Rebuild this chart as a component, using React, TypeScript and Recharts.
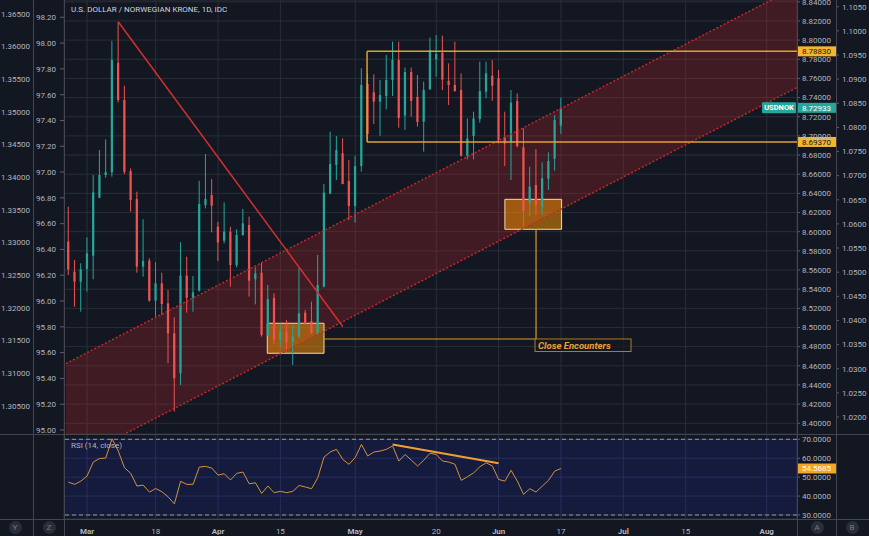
import React from "react";
import {
  ComposedChart,
  Bar,
  Line,
  Area,
  XAxis,
  YAxis,
  CartesianGrid,
  ReferenceLine,
  ReferenceArea,
} from "recharts";

// USD/NOK daily candles, 2019
const dates = [
  "02-26", "02-27", "02-28",
  "03-01", "03-04", "03-05", "03-06", "03-07", "03-08", "03-11", "03-12", "03-13", "03-14", "03-15",
  "03-18", "03-19", "03-20", "03-21", "03-22", "03-25", "03-26", "03-27", "03-28", "03-29",
  "04-01", "04-02", "04-03", "04-04", "04-05", "04-08", "04-09", "04-10", "04-11", "04-12",
  "04-15", "04-16", "04-17", "04-18", "04-19", "04-22", "04-23", "04-24", "04-25", "04-26", "04-29", "04-30",
  "05-01", "05-02", "05-03", "05-06", "05-07", "05-08", "05-09", "05-10", "05-13", "05-14", "05-15", "05-16", "05-17",
  "05-20", "05-21", "05-22", "05-23", "05-24", "05-27", "05-28", "05-29", "05-30", "05-31",
  "06-03", "06-04", "06-05", "06-06", "06-07", "06-10", "06-11", "06-12", "06-13", "06-14", "06-17",
];

const opens = [
  8.5896, 8.5583, 8.5478, 8.5611, 8.575, 8.6355, 8.6592, 8.662, 8.7764, 8.7374,
  8.6633, 8.6341, 8.5635, 8.5698, 8.528, 8.5461, 8.5252, 8.4939, 8.4522, 8.5541,
  8.5311, 8.5385, 8.6279, 8.6383, 8.6052, 8.5906, 8.6, 8.5652, 8.5965, 8.607,
  8.5503, 8.5572, 8.4922, 8.5308, 8.4876, 8.4956, 8.4852, 8.4904, 8.5155, 8.5068,
  8.4939, 8.5426, 8.64, 8.6697, 8.6819, 8.653, 8.6269, 8.6686, 8.7542, 8.7455,
  8.7358, 8.7417, 8.7584, 8.7793, 8.7212, 8.7667, 8.7407, 8.7149, 8.7487, 8.78,
  8.7869, 8.7574, 8.7532, 8.7479, 8.6793, 8.6999, 8.7176, 8.7462, 8.7628, 8.7601,
  8.6985, 8.6929, 8.7364, 8.6881, 8.6303, 8.6487, 8.6261, 8.6553, 8.6762, 8.7107,
];
const highs = [
  8.6261, 8.5705, 8.567, 8.5941, 8.6592, 8.6853, 8.6964, 8.7994, 8.8192, 8.7524,
  8.6661, 8.6418, 8.6129, 8.5722, 8.568, 8.5572, 8.5391, 8.5106, 8.5889, 8.5739,
  8.5538, 8.6532, 8.6811, 8.655, 8.6105, 8.6306, 8.6052, 8.6025, 8.6237, 8.6157,
  8.5628, 8.5677, 8.5444, 8.5357, 8.5044, 8.5078, 8.5026, 8.5618, 8.5183, 8.527,
  8.5757, 8.6498, 8.7044, 8.6999, 8.6975, 8.6749, 8.6791, 8.7706, 8.765, 8.7643,
  8.7584, 8.7845, 8.7984, 8.7984, 8.7713, 8.7713, 8.7636, 8.7567, 8.8026, 8.8054,
  8.8047, 8.7758, 8.7984, 8.7653, 8.7183, 8.7253, 8.7775, 8.7775, 8.7792, 8.7688,
  8.7253, 8.7479, 8.7444, 8.7079, 8.6679, 8.6863, 8.6724, 8.6828, 8.7218, 8.7399,
];
const lows = [
  8.5548, 8.5217, 8.5165, 8.5374, 8.5503, 8.635, 8.6564, 8.6574, 8.735, 8.6602,
  8.6209, 8.5572, 8.5531, 8.527, 8.5113, 8.513, 8.4626, 8.4122, 8.44, 8.5155,
  8.5165, 8.5374, 8.6244, 8.5993, 8.5694, 8.5878, 8.5426, 8.5628, 8.5958, 8.5322,
  8.5242, 8.4904, 8.4911, 8.4824, 8.479, 8.4748, 8.4609, 8.4887, 8.5026, 8.4932,
  8.4922, 8.5419, 8.639, 8.6539, 8.6495, 8.6123, 8.6095, 8.6627, 8.695, 8.7125,
  8.7, 8.7278, 8.7417, 8.7086, 8.7062, 8.7201, 8.7097, 8.6836, 8.748, 8.7619,
  8.748, 8.7323, 8.7462, 8.6783, 8.6755, 8.6755, 8.7138, 8.7392, 8.7368, 8.6922,
  8.6686, 8.654, 8.6881, 8.6053, 8.6164, 8.6174, 8.6174, 8.6435, 8.6637, 8.702,
];
const closes = [
  8.5607, 8.5478, 8.5607, 8.5774, 8.6411, 8.6592, 8.662, 8.7792, 8.7374, 8.6626,
  8.6331, 8.5635, 8.5694, 8.528, 8.5461, 8.5245, 8.4939, 8.447, 8.5541, 8.5311,
  8.5367, 8.6289, 8.6341, 8.6272, 8.5889, 8.6, 8.5652, 8.5965, 8.6087, 8.5489,
  8.5565, 8.4922, 8.5297, 8.4876, 8.4956, 8.4845, 8.4904, 8.5148, 8.5037, 8.4939,
  8.5444, 8.6407, 8.6707, 8.6853, 8.6498, 8.6269, 8.6686, 8.7532, 8.702, 8.7358,
  8.7427, 8.7584, 8.7793, 8.7187, 8.7667, 8.7365, 8.7146, 8.748, 8.7897, 8.7855,
  8.7587, 8.7532, 8.7469, 8.6793, 8.6974, 8.7183, 8.7468, 8.7653, 8.7524, 8.6957,
  8.6922, 8.7347, 8.6894, 8.6216, 8.647, 8.6279, 8.6557, 8.6738, 8.7166, 8.72933,
];
const rsiValues = [
  47.4, 46.2, 47.9, 50.6, 58.0, 59.8, 60.1, 70.3, 63.8, 55.0,
  52.0, 45.3, 45.8, 42.1, 44.0, 42.3, 39.6, 35.9, 47.8, 46.2,
  46.2, 55.3, 55.7, 54.8, 51.1, 51.8, 48.5, 52.0, 52.7, 46.5,
  47.0, 41.4, 45.3, 41.8, 42.5, 41.8, 42.5, 45.6, 44.8, 43.9,
  49.7, 60.6, 63.3, 64.7, 59.4, 56.8, 60.3, 67.3, 61.2, 63.3,
  63.8, 64.7, 66.5, 58.5, 62.0, 59.0, 55.9, 59.0, 62.6, 62.0,
  58.5, 58.0, 56.8, 48.3, 50.2, 52.3, 55.5, 57.6, 55.9, 48.8,
  47.9, 53.6, 47.9, 40.9, 43.9, 42.1, 45.3, 48.3, 53.2, 54.5685,
];

// bar slots of the date labels (future ones continue the weekday count)
const dateTicks = [3, 14, 24, 34, 46, 59, 69, 79, 89, 99, 112];
const dateTickLabels = ["Mar", "18", "Apr", "15", "May", "20", "Jun", "17", "Jul", "15", "Aug"];

const nokTicks = [8.4, 8.42, 8.44, 8.46, 8.48, 8.5, 8.52, 8.54, 8.56, 8.58, 8.6, 8.62, 8.64, 8.66, 8.68, 8.7, 8.72, 8.74, 8.76, 8.78, 8.8, 8.82, 8.84];
const leftInnerTicks = [95.0, 95.2, 95.4, 95.6, 95.8, 96.0, 96.2, 96.4, 96.6, 96.8, 97.0, 97.2, 97.4, 97.6, 97.8, 98.0, 98.2];
const leftOuterTicks = [1.305, 1.31, 1.315, 1.32, 1.325, 1.33, 1.335, 1.34, 1.345, 1.35, 1.355, 1.36, 1.365];
const rightOuterTicks = [1.02, 1.025, 1.03, 1.035, 1.04, 1.045, 1.05, 1.055, 1.06, 1.065, 1.07, 1.075, 1.08, 1.085, 1.09, 1.095, 1.1, 1.105];
const rsiTicks = [30, 40, 50, 60, 70];

// drawings, in (bar slot, price)
const trendLine = [{ x: 8, y: 8.8192 }, { x: 44.0, y: 8.501 }];
const channel = [
  { k: -0.4, band: [8.3571, 8.4622] },
  { k: 116.85, band: [8.7506, 8.8558] },
];
const rangeLevels = [8.7883, 8.6937];
const rangeStart = 47.9;
const boxes = [
  { x1: 31.9, x2: 41.0, y1: 8.4731, y2: 8.5044 },
  { x1: 70.0, x2: 79.1, y1: 8.6025, y2: 8.6338 },
];
const connectorY = 8.488;
const connectorX = 75;
const rsiDivergence = [{ x: 52, y: 67.3 }, { x: 69, y: 57.3 }];

const xDomain = [-0.7, 116.85];
const UP = "#26a69a";
const DOWN = "#ef5350";
const BG = "#131722";
const AXIS_TEXT = "#b2b5be";
const FONT = "Roboto, sans-serif";
const SEP = "#434651";

const candles = dates.map((date, k) => ({
  k,
  date,
  o: opens[k],
  h: highs[k],
  l: lows[k],
  c: closes[k],
  range: [lows[k], highs[k]],
  rsi: rsiValues[k],
}));

const Candle = (props: any) => {
  const { x, y, width, height, payload } = props;
  if (!payload || payload.h == null) return null;
  const top = Math.min(y, y + height);
  const span = Math.abs(height);
  const ppu = payload.h === payload.l ? 0 : span / (payload.h - payload.l);
  const bodyTop = top + (payload.h - Math.max(payload.o, payload.c)) * ppu;
  const bodyH = Math.max(1, Math.abs(payload.o - payload.c) * ppu);
  const color = payload.c >= payload.o ? UP : DOWN;
  const cx = x + width / 2;
  return (
    <g>
      <line x1={cx} x2={cx} y1={top} y2={top + span} stroke={color} strokeWidth={1} />
      <rect x={x} y={bodyTop} width={width} height={bodyH} fill={color} />
    </g>
  );
};

const badge = (text: string, fill: string, color: string, prefix?: string) => (props: any) => {
  const vb = props.viewBox || {};
  const right = (vb.x || 0) + (vb.width || 0);
  const y = vb.y || 0;
  return (
    <g>
      {prefix && (
        <g>
          <rect x={right - 35} y={y - 5.5} width={34} height={11} fill={fill} rx={1} />
          <text x={right - 18} y={y} dy="0.35em" textAnchor="middle" fill={color} fontSize={7.5} fontFamily={FONT} fontWeight={700}>
            {prefix}
          </text>
        </g>
      )}
      <rect x={right + 1} y={y - 5} width={38} height={10} fill={fill} />
      <text x={right + 5} y={y} dy="0.35em" fill={color} fontSize={8} fontFamily={FONT}>
        {text}
      </text>
    </g>
  );
};

const encounterLabel = (props: any) => {
  const vb = props.viewBox || {};
  const x = vb.x || 0;
  const y = (vb.y || 0) + (vb.height || 0);
  return (
    <g>
      <rect x={x - 1} y={y} width={96} height={12.5} fill={BG} fillOpacity={0.6} stroke="#b07a2a" strokeWidth={1} />
      <text x={x + 2} y={y + 6.5} dy="0.35em" fill="#f0a030" fontSize={9.5} fontStyle="italic" fontWeight={700} fontFamily={FONT}>
        Close Encounters
      </text>
    </g>
  );
};

const DateTick = (props: any) => {
  const { x, y, payload } = props;
  const idx = dateTicks.indexOf(payload.value);
  const label = dateTickLabels[idx] ?? "";
  const isMonth = isNaN(Number(label));
  return (
    <text x={x} y={y} dy={7} textAnchor="middle" fill={AXIS_TEXT} fontSize={8} fontFamily={FONT} fontWeight={isMonth ? 700 : 400}>
      {label}
    </text>
  );
};

const tickStyle = { fill: AXIS_TEXT, fontSize: 8, fontFamily: FONT };

const Circle = ({ x, letter }: { x: number; letter: string }) => (
  <div
    style={{
      position: "absolute",
      left: x - 6.5,
      top: 521,
      width: 13,
      height: 13,
      borderRadius: "50%",
      background: "#2a2e39",
      color: "#787b86",
      fontSize: 8,
      fontFamily: FONT,
      lineHeight: "13px",
      textAlign: "center",
    }}
  >
    {letter}
  </div>
);

export default function App() {
  return (
    <div style={{ position: "absolute", left: 0, top: 0, width: 869, height: 536, background: BG, overflow: "hidden" }}>
      <div style={{ position: "absolute", left: 0, top: 0 }}>
        <ComposedChart width={869} height={434} data={candles} margin={{ top: 0, right: 0, bottom: 0, left: 0 }}>
          <XAxis xAxisId="t" dataKey="k" type="number" domain={xDomain} ticks={dateTicks} allowDataOverflow hide />
          <YAxis
            yAxisId="leftInner"
            orientation="left"
            width={31}
            type="number"
            domain={[94.969, 98.334]}
            ticks={leftInnerTicks}
            allowDataOverflow
            interval={0}
            axisLine={false}
            tickLine={{ stroke: "#5d606b" }}
            tickSize={4}
            tickMargin={4}
            tick={tickStyle}
            tickFormatter={(v: number) => v.toFixed(2)}
          />
          <YAxis
            yAxisId="leftOuter"
            orientation="left"
            width={33}
            type="number"
            domain={[1.30067, 1.36714]}
            ticks={leftOuterTicks}
            allowDataOverflow
            interval={0}
            axisLine={false}
            tickLine={false}
            tickSize={0}
            tickMargin={3}
            tick={tickStyle}
            tickFormatter={(v: number) => v.toFixed(5)}
          />
          <YAxis
            yAxisId="nok"
            orientation="right"
            width={39}
            type="number"
            domain={[8.3888, 8.8419]}
            ticks={nokTicks}
            allowDataOverflow
            interval={0}
            axisLine={false}
            tickLine={{ stroke: "#5d606b" }}
            tickSize={3}
            tickMargin={2}
            tick={tickStyle}
            tickFormatter={(v: number) => v.toFixed(5)}
          />
          <YAxis
            yAxisId="rightOuter"
            orientation="right"
            width={33}
            type="number"
            domain={[1.01648, 1.10639]}
            ticks={rightOuterTicks}
            allowDataOverflow
            interval={0}
            axisLine={false}
            tickLine={{ stroke: "#5d606b" }}
            tickSize={3}
            tickMargin={3}
            tick={tickStyle}
            tickFormatter={(v: number) => v.toFixed(4)}
          />
          <CartesianGrid xAxisId="t" yAxisId="nok" stroke="#2a2e39" />
          <Area
            xAxisId="t"
            yAxisId="nok"
            data={channel}
            dataKey="band"
            type="linear"
            fill="#c62828"
            fillOpacity={0.25}
            stroke="none"
            isAnimationActive={false}
          />
          <ReferenceLine
            xAxisId="t"
            yAxisId="nok"
            segment={[{ x: channel[0].k, y: channel[0].band[1] }, { x: channel[1].k, y: channel[1].band[1] }]}
            stroke="#c62828"
            strokeWidth={1.5}
            strokeDasharray="2 2"
            ifOverflow="hidden"
          />
          <ReferenceLine
            xAxisId="t"
            yAxisId="nok"
            segment={[{ x: channel[0].k, y: channel[0].band[0] }, { x: channel[1].k, y: channel[1].band[0] }]}
            stroke="#c62828"
            strokeWidth={1.5}
            strokeDasharray="2 2"
            ifOverflow="hidden"
          />
          <ReferenceLine xAxisId="t" yAxisId="nok" segment={trendLine} stroke="#d32f2f" strokeWidth={1.5} ifOverflow="hidden" />
          <Bar xAxisId="t" yAxisId="nok" dataKey="range" barSize={4} shape={<Candle />} isAnimationActive={false} />
          {rangeLevels.map((p) => (
            <ReferenceLine
              key={p}
              xAxisId="t"
              yAxisId="nok"
              segment={[{ x: rangeStart, y: p }, { x: xDomain[1], y: p }]}
              stroke="#e0a030"
              strokeWidth={1.5}
              ifOverflow="hidden"
              label={badge(p.toFixed(5), "#f5b52e", BG)}
            />
          ))}
          <ReferenceLine
            xAxisId="t"
            yAxisId="nok"
            segment={[{ x: rangeStart, y: rangeLevels[1] }, { x: rangeStart, y: rangeLevels[0] }]}
            stroke="#e0a030"
            strokeWidth={1.5}
            ifOverflow="hidden"
          />
          {boxes.map((b, i) => (
            <ReferenceArea
              key={i}
              xAxisId="t"
              yAxisId="nok"
              x1={b.x1}
              x2={b.x2}
              y1={b.y1}
              y2={b.y2}
              fill="#ff9800"
              fillOpacity={0.5}
              stroke="#f3d9a4"
              strokeWidth={1}
              ifOverflow="hidden"
            />
          ))}
          <ReferenceLine
            xAxisId="t"
            yAxisId="nok"
            segment={[{ x: boxes[0].x2, y: connectorY }, { x: connectorX, y: connectorY }]}
            stroke="#e0982c"
            strokeWidth={1.2}
            ifOverflow="hidden"
          />
          <ReferenceLine
            xAxisId="t"
            yAxisId="nok"
            segment={[{ x: connectorX, y: boxes[1].y1 }, { x: connectorX, y: connectorY }]}
            stroke="#e0982c"
            strokeWidth={1.2}
            ifOverflow="hidden"
            label={encounterLabel}
          />
          <ReferenceLine
            xAxisId="t"
            yAxisId="nok"
            y={closes[closes.length - 1]}
            stroke="none"
            label={badge(closes[closes.length - 1].toFixed(5), UP, "#ffffff", "USDNOK")}
          />
        </ComposedChart>
      </div>

      <div style={{ position: "absolute", left: 0, top: 434 }}>
        <ComposedChart width={869} height={102} data={candles} margin={{ top: 0, right: 33, bottom: 0, left: 64 }}>
          <XAxis
            xAxisId="t"
            dataKey="k"
            type="number"
            domain={xDomain}
            ticks={dateTicks}
            allowDataOverflow
            interval={0}
            height={17}
            axisLine={false}
            tickLine={false}
            tick={<DateTick />}
          />
          <YAxis
            yAxisId="rsi"
            orientation="right"
            width={39}
            type="number"
            domain={[27.89, 72.8]}
            ticks={rsiTicks}
            allowDataOverflow
            interval={0}
            axisLine={false}
            tickLine={{ stroke: "#5d606b" }}
            tickSize={3}
            tickMargin={2}
            tick={tickStyle}
            tickFormatter={(v: number) => v.toFixed(4)}
          />
          <ReferenceArea xAxisId="t" yAxisId="rsi" y1={30} y2={70} fill="#1a237e" fillOpacity={0.3} stroke="none" />
          <CartesianGrid xAxisId="t" yAxisId="rsi" stroke="#2c3250" />
          <ReferenceLine xAxisId="t" yAxisId="rsi" y={70} stroke="#9598a1" strokeDasharray="4 3" />
          <ReferenceLine xAxisId="t" yAxisId="rsi" y={30} stroke="#9598a1" strokeDasharray="4 3" />
          <Line
            xAxisId="t"
            yAxisId="rsi"
            dataKey="rsi"
            type="linear"
            stroke="#d4913e"
            strokeWidth={1}
            dot={false}
            isAnimationActive={false}
          />
          <ReferenceLine xAxisId="t" yAxisId="rsi" segment={rsiDivergence} stroke="#f0a030" strokeWidth={2} ifOverflow="hidden" />
          <ReferenceLine
            xAxisId="t"
            yAxisId="rsi"
            y={rsiValues[rsiValues.length - 1]}
            stroke="none"
            label={badge(rsiValues[rsiValues.length - 1].toFixed(4), "#f5a623", "#ffffff")}
          />
        </ComposedChart>
      </div>

      {/* pane and scale separators */}
      {[33, 64, 797, 836].map((x) => (
        <div key={x} style={{ position: "absolute", left: x, top: 0, width: 1, height: 536, background: SEP }} />
      ))}
      {[434, 519].map((y) => (
        <div key={y} style={{ position: "absolute", left: 0, top: y, width: 869, height: 1, background: SEP }} />
      ))}

      <div style={{ position: "absolute", left: 71, top: 5, color: "#d1d4dc", fontSize: 8, fontFamily: FONT, whiteSpace: "nowrap" }}>
        U.S. DOLLAR / NORWEGIAN KRONE, 1D, IDC
      </div>
      <div style={{ position: "absolute", left: 71, top: 441, color: AXIS_TEXT, fontSize: 8, fontFamily: FONT, whiteSpace: "nowrap" }}>
        RSI (14, close)
      </div>
      <Circle x={15} letter="Y" />
      <Circle x={49} letter="Z" />
      <Circle x={817} letter="A" />
      <Circle x={852} letter="B" />
    </div>
  );
}
